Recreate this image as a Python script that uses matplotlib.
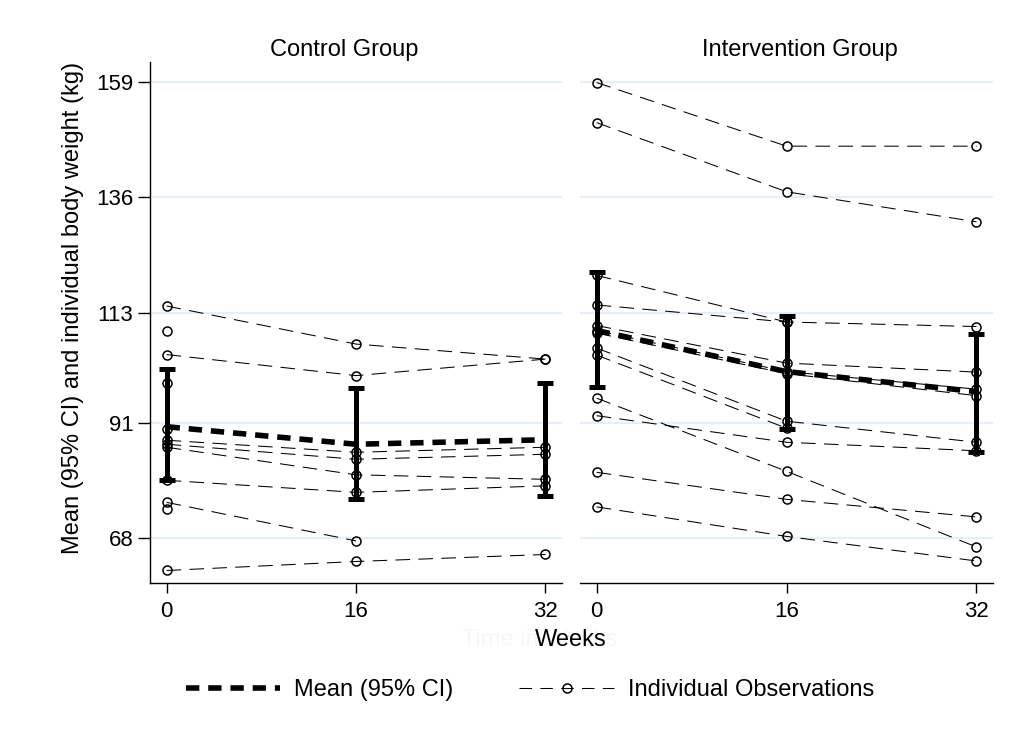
import numpy as np
import matplotlib
matplotlib.use('Agg')
import matplotlib.pyplot as plt
from matplotlib.lines import Line2D

plt.rcParams['font.family'] = ['Liberation Sans', 'DejaVu Sans']

# semanas de medición
weeks = [0, 16, 32]

# control: observaciones individuales (nan = sin dato)
control_obs = [
    [114.3, 106.7, 103.7],
    [109.4, np.nan, np.nan],
    [104.6, 100.4, 103.7],
    [98.9, np.nan, np.nan],
    [89.7, np.nan, np.nan],
    [87.5, 85.1, 86.1],
    [86.7, 83.7, 84.7],
    [86.1, 80.6, 79.7],
    [79.5, 77.1, 78.4],
    [75.1, 67.4, np.nan],
    [73.7, np.nan, np.nan],
    [61.5, 63.3, 64.7],
]
control_mean = [90.2, 86.7, 87.6]
control_lo = [79.5, 75.7, 76.4]
control_hi = [101.7, 97.9, 98.9]

# intervención: observaciones individuales
interv_obs = [
    [158.9, 146.2, 146.2],
    [150.9, 137.1, 131.1],
    [120.4, 111.1, np.nan],
    [114.5, 111.1, 110.2],
    [110.4, 102.9, 101.1],
    [109.4, 101.2, 97.7],
    [108.9, 100.8, 96.4],
    [105.9, 91.3, 87.1],
    [104.5, 89.9, np.nan],
    [95.9, 81.3, 66.2],
    [92.4, 87.1, 85.4],
    [81.1, 75.7, 72.2],
    [74.2, 68.3, 63.4],
]
interv_mean = [109.4, 101.2, 97.2]
interv_lo = [98.2, 89.7, 85.2]
interv_hi = [121.1, 112.4, 108.7]

y_ticks = [68, 91, 113, 136, 159]
panel_titles = ['Control Group', 'Intervention Group']

fig = plt.figure(figsize=(10.29, 7.49), dpi=100)
ax1 = fig.add_axes([0.1458, 0.2216, 0.4004, 0.6956])
ax2 = fig.add_axes([0.5637, 0.2216, 0.4014, 0.6956])

grid_col = '#e8eef3'

def draw_panel(ax, obs, mean, lo, hi, title, title_x):
    for row in obs:
        ax.plot(weeks, row, color='black', lw=0.75, dashes=(14, 8),
                marker='o', ms=6.5, mfc='none', mec='black', mew=1.1, zorder=3)
    mean = np.array(mean)
    yerr = [mean - np.array(lo), np.array(hi) - mean]
    ax.errorbar(weeks, mean, yerr=yerr, fmt='none', ecolor='black',
                elinewidth=3.6, capsize=6, capthick=3.6, zorder=4)
    ax.plot(weeks, mean, color='black', lw=4, dashes=(2.4, 1.6), zorder=5)
    ax.set_xlim(-1.4, 33.4)
    ax.set_ylim(59, 163)
    ax.set_xticks(weeks)
    ax.set_yticks(y_ticks)
    for t in y_ticks:
        ax.axhline(t, color=grid_col, lw=1.6, zorder=0)
    ax.set_title(title, fontsize=17, pad=4, x=title_x)
    ax.tick_params(axis='x', length=7, width=1, labelsize=16, pad=6)
    ax.tick_params(axis='y', length=9, width=1, labelsize=16, pad=3)
    for s in ['top', 'right']:
        ax.spines[s].set_visible(False)
    for s in ax.spines.values():
        s.set_linewidth(1)

draw_panel(ax1, control_obs, control_mean, control_lo, control_hi, panel_titles[0], 0.472)
draw_panel(ax2, interv_obs, interv_mean, interv_lo, interv_hi, panel_titles[1], 0.533)

ax2.spines['left'].set_visible(False)
ax2.tick_params(axis='y', left=False, labelleft=False)
ax1.set_ylabel('Mean (95% CI) and individual body weight (kg)', fontsize=17)
ax1.yaxis.set_label_coords(-0.16, 0.528)

# etiqueta del eje x (el texto original aparece casi borrado)
fig.text(0.524, 0.145, 'Time in Weeks', fontsize=17, color='#f7f7f7', ha='center', va='center')
fig.text(0.555, 0.145, 'Weeks', fontsize=17, color='black', ha='center', va='center')

handles = [
    Line2D([], [], color='black', lw=4, dashes=(2.4, 1.6)),
    Line2D([], [], color='black', lw=0.75, dashes=(12, 8), marker='o', ms=6.5,
           mfc='none', mec='black', mew=1.1, markevery=[1]),
]
handles[1].set_xdata([0, 0.5, 1])
fig.legend(handles, ['Mean (95% CI)', 'Individual Observations'], loc='center',
           bbox_to_anchor=(0.515, 0.079), ncol=2, frameon=False, fontsize=17,
           handlelength=4, columnspacing=2.8, handletextpad=0.6)

fig.savefig('out.png', dpi=100)
